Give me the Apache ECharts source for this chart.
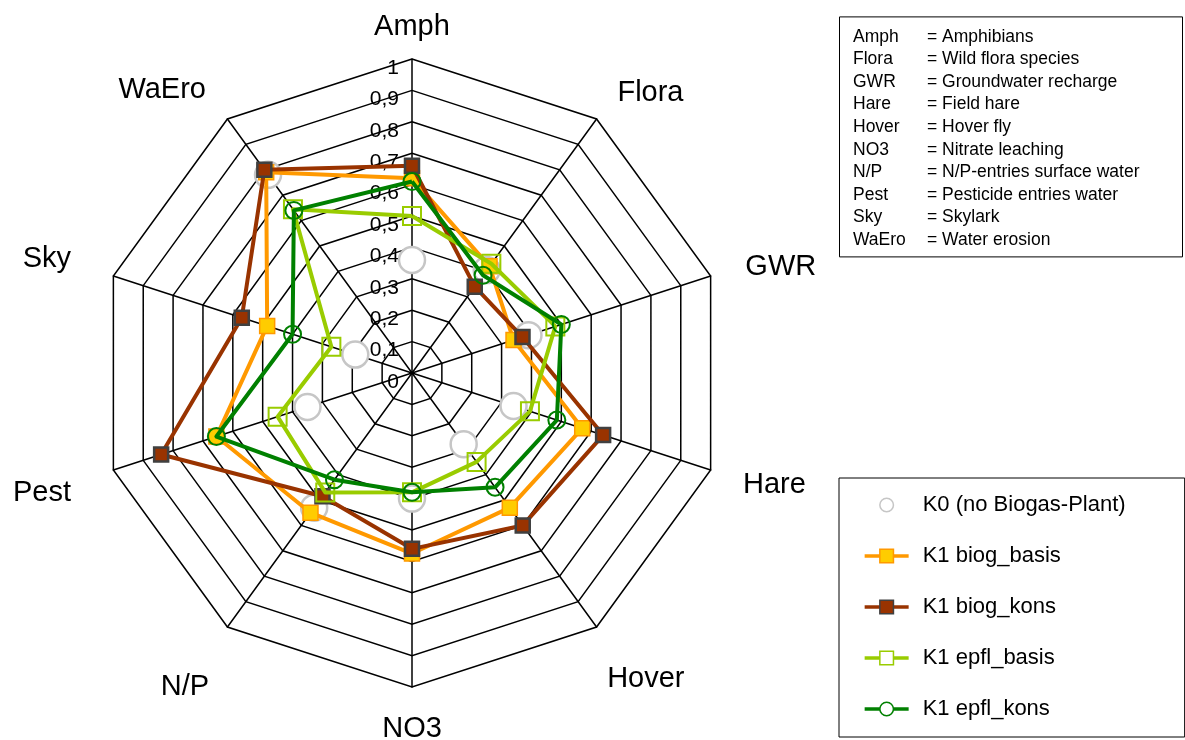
<!DOCTYPE html>
<html>
<head>
<meta charset="utf-8">
<script src="https://cdn.jsdelivr.net/npm/echarts@6/dist/echarts.min.js"></script>
<style>html,body{margin:0;padding:0;background:#fff}#c{width:1185px;height:740px}</style>
</head>
<body>
<div id="c"></div>
<script>
// ---- data ----
const categories = ['Amph', 'Flora', 'GWR', 'Hare', 'Hover', 'NO3', 'N/P', 'Pest', 'Sky', 'WaEro'];
const categoryLong = ['Amphibians', 'Wild flora species', 'Groundwater recharge', 'Field hare', 'Hover fly',
  'Nitrate leaching', 'N/P-entries surface water', 'Pesticide entries water', 'Skylark', 'Water erosion'];
const seriesNames = ['K0 (no Biogas-Plant)', 'K1 biog_basis', 'K1 biog_kons', 'K1 epfl_basis', 'K1 epfl_kons'];
const k0          = [0.36, 0.405, 0.39, 0.34, 0.28, 0.40, 0.53, 0.35, 0.19, 0.78];
const k1BiogBasis = [0.62, 0.42, 0.34, 0.57, 0.53, 0.575, 0.55, 0.655, 0.485, 0.79];
const k1BiogKons  = [0.66, 0.34, 0.37, 0.64, 0.60, 0.56, 0.485, 0.84, 0.57, 0.80];
const k1EpflBasis = [0.50, 0.43, 0.48, 0.395, 0.35, 0.38, 0.47, 0.45, 0.27, 0.645];
const k1EpflKons  = [0.61, 0.385, 0.50, 0.485, 0.45, 0.38, 0.42, 0.655, 0.40, 0.64];
const tickLabels = ['0', '0,1', '0,2', '0,3', '0,4', '0,5', '0,6', '0,7', '0,8', '0,9', '1'];
const axisMin = 0, axisMax = 1, axisSplits = 10;

// ---- styling ----
const FONT = "'Liberation Sans', Arial, sans-serif";
const seriesValues = [k0, k1BiogBasis, k1BiogKons, k1EpflBasis, k1EpflKons];
const styles = [
  {symbol: 'circle', size: 26, fill: '#ffffff', border: '#c6c6c6', bw: 2.5, line: 'rgba(0,0,0,0)', lw: 0, lsize: 1.5},
  {symbol: 'rect', size: 15, fill: '#FFCC00', border: '#FF9900', bw: 1.5, line: '#FF9900', lw: 4, lsize: 1.5},
  {symbol: 'rect', size: 14, fill: '#993300', border: '#404040', bw: 2.5, line: '#993300', lw: 4, lsize: 1.5},
  {symbol: 'rect', size: 18, fill: 'rgba(255,255,255,0)', border: '#99CC00', bw: 2, line: '#99CC00', lw: 4, lsize: 1.5},
  {symbol: 'circle', size: 17, fill: 'rgba(255,255,255,0)', border: '#008000', bw: 2, line: '#008000', lw: 4, lsize: 1.5}
];
// name placement per axis: gap from outer ring, vertical shift of the text
const nameLayout = {
  'Amph': {gap: 18, dy: 0}, 'Flora': {gap: 35.5, dy: 3}, 'GWR': {gap: 36.5, dy: 2}, 'Hare': {gap: 34, dy: 4},
  'Hover': {gap: 18, dy: 37}, 'NO3': {gap: 27, dy: 0}, 'N/P': {gap: 31, dy: 35},
  'Pest': {gap: 44.5, dy: 9}, 'Sky': {gap: 44.5, dy: -3}, 'WaEro': {gap: 36.5, dy: 1}
};
// ECharts radar runs counter-clockwise; reference runs clockwise from top
const order = [0, 9, 8, 7, 6, 5, 4, 3, 2, 1];

const nameRich = {n: {fontSize: 29, fontFamily: FONT, color: '#000'}};
categories.forEach(function (c, i) {
  const d = Math.abs(nameLayout[c].dy);
  nameRich['s' + i] = {fontSize: 1, lineHeight: Math.max(1, 2 * d)};
});

const indicator = order.map(function (i) {
  const nm = categories[i];
  const ind = {name: nm, min: axisMin, max: axisMax, nameGap: nameLayout[nm].gap};
  if (i === 0) {
    ind.axisLabel = {
      show: true, color: '#000', fontSize: 21, fontFamily: FONT, margin: 13,
      rich: {s: {fontSize: 1, lineHeight: 18}, v: {fontSize: 21, fontFamily: FONT, color: '#000'}},
      formatter: function (v) {
        const t = tickLabels[Math.round((v - axisMin) / (axisMax - axisMin) * axisSplits)];
        return '{s| }\n{v|' + t + '}';
      }
    };
  }
  return ind;
});

const series = [];
// invisible line series only to provide line+marker legend icons
seriesNames.forEach(function (n, k) {
  const s = styles[k];
  series.push({
    type: 'line', name: n, data: [], symbol: s.symbol,
    itemStyle: {color: s.fill, borderColor: s.border, borderWidth: s.lsize},
    lineStyle: {color: s.line, width: s.lw === 0 ? 0 : 3}
  });
});
seriesNames.forEach(function (n, k) {
  const s = styles[k];
  series.push({
    type: 'radar', name: n, z: 3 + k,
    symbol: s.symbol, symbolSize: s.size,
    itemStyle: {color: s.fill, borderColor: s.border, borderWidth: s.bw},
    lineStyle: {color: s.line, width: s.lw, opacity: s.lw === 0 ? 0 : 1},
    data: [{name: n, value: order.map(function (i) { return seriesValues[k][i]; })}]
  });
});

const option = {
  animation: false,
  backgroundColor: '#fff',
  grid: {left: 0, top: 0, width: 1, height: 1, show: false},
  xAxis: {type: 'value', show: false},
  yAxis: {type: 'value', show: false},
  title: {
    left: 839, top: 17,
    padding: [8.4, 0, 5.6, 14],
    borderColor: '#000', borderWidth: 1, backgroundColor: '#fff',
    text: categories.map(function (c, i) { return '{a|' + c + '}{b|= ' + categoryLong[i] + '}'; }).join('\n'),
    textStyle: {
      fontSize: 17.5, fontWeight: 'normal', fontFamily: FONT, color: '#000', lineHeight: 22.6,
      rich: {
        a: {width: 74, fontSize: 17.5, fontFamily: FONT, color: '#000', lineHeight: 22.6},
        b: {width: 256, fontSize: 17.5, fontFamily: FONT, color: '#000', lineHeight: 22.6}
      }
    }
  },
  legend: {
    orient: 'vertical', left: 839, top: 478,
    padding: [16, 59, 17, 24],
    borderColor: '#000', borderWidth: 1, backgroundColor: '#fff',
    itemGap: 29, itemWidth: 44, itemHeight: 17,
    selectedMode: false,
    textStyle: {fontSize: 22, fontFamily: FONT, color: '#000', padding: [0, 0, 0, 9]},
    data: seriesNames.map(function (n, k) {
      const s = styles[k];
      return {
        name: n,
        itemStyle: {color: s.fill === 'rgba(255,255,255,0)' ? '#fff' : s.fill, borderColor: s.border, borderWidth: s.lsize},
        lineStyle: {color: s.line, width: s.lw === 0 ? 0 : 3.3}
      };
    })
  },
  radar: {
    center: [412, 373], radius: 314, startAngle: 90, shape: 'polygon', splitNumber: axisSplits,
    indicator: indicator,
    axisName: {
      color: '#000', fontSize: 29, fontFamily: FONT, rich: nameRich,
      formatter: function (name) {
        const i = categories.indexOf(name);
        const d = nameLayout[name].dy;
        if (d > 0) return '{s' + i + '| }\n{n|' + name + '}';
        if (d < 0) return '{n|' + name + '}\n{s' + i + '| }';
        return '{n|' + name + '}';
      }
    },
    nameGap: 30,
    axisLine: {lineStyle: {color: '#000', width: 1.5}},
    splitLine: {lineStyle: {color: '#000', width: 1.5}},
    splitArea: {show: false},
    axisTick: {show: false},
    axisLabel: {show: false}
  },
  series: series
};

const chart = echarts.init(document.getElementById('c'), null, {renderer: 'canvas'});
chart.setOption(option);
</script>
</body>
</html>
